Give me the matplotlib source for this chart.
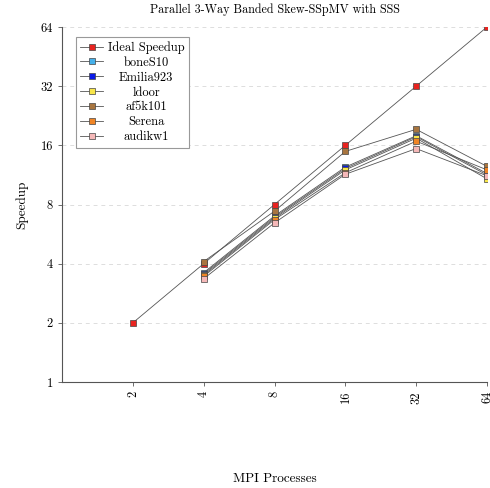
import numpy as np
import matplotlib.pyplot as plt

plt.rcParams['font.family'] = ['cmr10', 'DejaVu Serif']
plt.rcParams['mathtext.fontset'] = 'cm'
plt.rcParams['axes.formatter.use_mathtext'] = True

procs_ideal = [2, 4, 8, 16, 32, 64]
ideal = [2, 4, 8, 16, 32, 64]

procs = [4, 8, 16, 32, 64]
boneS10 = [3.6, 7.0, 12.4, 17.9, 11.5]
emilia923 = [3.55, 6.9, 12.2, 17.7, 11.3]
ldoor = [3.5, 6.8, 12.0, 17.4, 10.8]
af5k101 = [4.1, 7.4, 14.9, 19.3, 12.5]
serena = [3.45, 6.7, 11.6, 16.8, 12.0]
audikw1 = [3.35, 6.45, 11.4, 15.4, 11.2]

tick_vals = [2, 4, 8, 16, 32, 64]
ytick_vals = [1, 2, 4, 8, 16, 32, 64]

fig = plt.figure(figsize=(4.9, 4.88), dpi=100)
ax = fig.add_axes([62/490, 1-382/488, 425/490, 355/488])

line_kw = dict(color='#555555', lw=0.6, marker='s', markersize=5,
               markeredgecolor='#444444', markeredgewidth=0.5)

ax.plot(procs_ideal, ideal, markerfacecolor='#e8231f', label='Ideal Speedup', **line_kw)
ax.plot(procs, boneS10, markerfacecolor='#45b0ea', label='boneS10', **line_kw)
ax.plot(procs, emilia923, markerfacecolor='#0a1ae8', label='Emilia923', **line_kw)
ax.plot(procs, ldoor, markerfacecolor='#f8e64a', label='ldoor', **line_kw)
ax.plot(procs, af5k101, markerfacecolor='#a8753f', label='af5k101', **line_kw)
ax.plot(procs, serena, markerfacecolor='#f08525', label='Serena', **line_kw)
ax.plot(procs, audikw1, markerfacecolor='#f5b8b8', label='audikw1', **line_kw)

ax.set_xscale('log', base=2)
ax.set_yscale('log', base=2)
ax.set_xlim(1, 64)
ax.set_ylim(1, 64)
ax.set_xticks(tick_vals)
ax.set_xticklabels([str(v) for v in tick_vals], rotation=90)
ax.set_yticks(ytick_vals)
ax.set_yticklabels([str(v) for v in ytick_vals])
ax.minorticks_off()
ax.tick_params(labelsize=9, length=3, width=0.6, color='#555555')

for s in ['top', 'right']:
    ax.spines[s].set_visible(False)
for s in ['left', 'bottom']:
    ax.spines[s].set_linewidth(0.8)
    ax.spines[s].set_color('#555555')

ax.yaxis.grid(True, ls=(0, (4, 4)), color='#dddddd', lw=0.7)
ax.set_axisbelow(True)

ax.set_title('Parallel 3-Way Banded Skew-SSpMV with SSS', fontsize=8.7, pad=10)
ax.set_ylabel('Speedup', fontsize=9.5)
ax.set_xlabel('MPI Processes', fontsize=9.5)
ax.xaxis.set_label_coords(0.5, -0.255)
ax.yaxis.set_label_coords(-0.08, 0.5)

leg = ax.legend(loc='upper left', bbox_to_anchor=(0.033, 0.972), borderaxespad=0,
                fontsize=9, fancybox=False, framealpha=1, edgecolor='#999999',
                handlelength=1.8, handletextpad=0.4, labelspacing=0.22,
                borderpad=0.35)
leg.get_frame().set_linewidth(0.8)

# center the legend labels like the original
fig.canvas.draw()
r = fig.canvas.get_renderer()
texts = leg.get_texts()
widths = [t.get_window_extent(r).width for t in texts]
wmax = max(widths)
for t, w in zip(texts, widths):
    t.set_x((wmax - w) / 2)

fig.savefig('out.png', dpi=100)
